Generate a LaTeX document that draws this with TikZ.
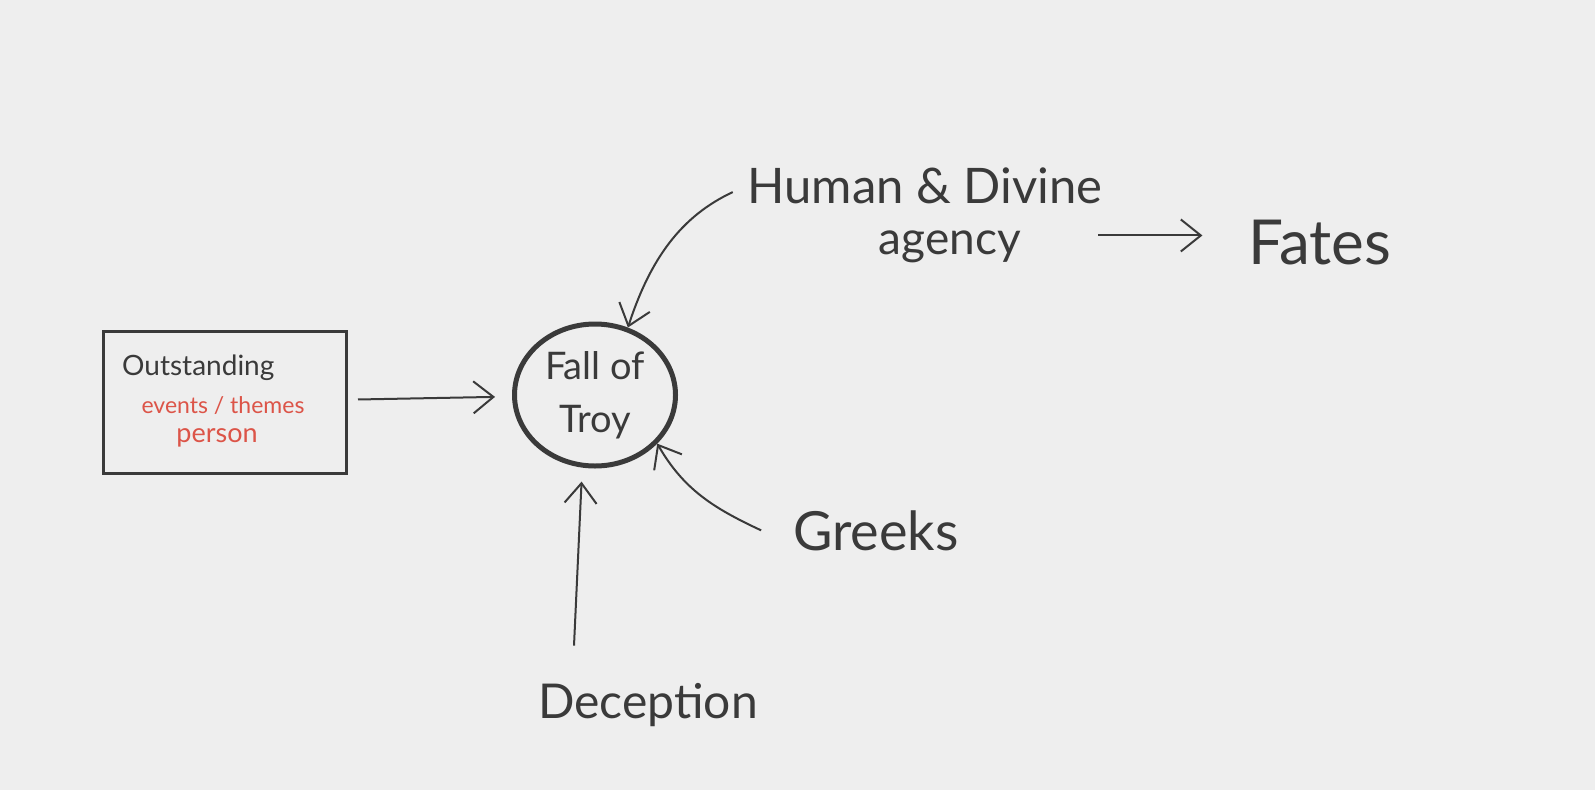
\documentclass[tikz,border=0pt]{standalone}
\usepackage{fontspec}
\setmainfont{Lato}
\usetikzlibrary{arrows.meta,shapes.geometric,positioning}
\definecolor{paper}{RGB}{238,238,238}
\definecolor{ink}{RGB}{58,58,58}
\definecolor{redink}{RGB}{220,84,72}

\begin{document}
\begin{tikzpicture}[x=1pt, y=-1pt,
  arr/.style={-{Straight Barb[length=20pt,width=32pt]}, line width=2pt, draw=ink},
  txt/.style={text=ink, inner sep=0pt, anchor=base}]
\def\fs#1{\fontsize{#1}{#1}\selectfont}

\fill[paper] (0,0) rectangle (1595,790);
\useasboundingbox (0,0) rectangle (1595,790);

% box on the left
\node[draw=ink, line width=3pt, minimum width=243pt, minimum height=142pt] (B) at (225,402) {};
\node[txt, anchor=base west, font=\fs{28}] (O) at (122,375) {Outstanding};
\node[txt, text=redink, font=\fs{23}] (E) at (223,413) {events / themes};
\node[txt, text=redink, font=\fs{27}] (P) at (217,442) {person};

% circle in the middle
\node[draw=ink, ellipse, line width=5pt, minimum width=161pt, minimum height=142pt, inner sep=0pt, align=center, text=ink, font=\fontsize{38}{53}\selectfont] (C) at (595,395) {Fall of\\Troy};

\node[txt, font=\fs{49}] (H) at (925,203) {Human \& Divine};
\node[txt, font=\fs{46}] (A) at (950,254) {agency};
\node[txt, font=\fs{62}] (F) at (1320,264) {Fates};
\node[txt, font=\fs{54}] (G) at (876,550) {Greeks};
\node[txt, font=\fs{48}] (D) at (648,718) {Deception};

\draw[arr, shorten <=10pt, shorten >=17pt] (B) -- (C);
\draw[arr, shorten <=16pt] (H.west) to[out=205, in=72] (C.64);
\draw[arr] ([xshift=-32pt]G.west) to[out=155, in=-60] (C.-38);
\draw[arr, shorten >=14pt] ([xshift=-74pt, yshift=37pt]D.north) -- (C.-100);
\draw[arr, shorten <=77pt, shorten >=46pt] ([yshift=16pt]A.mid east) -- ([yshift=16pt]A.mid east -| F.west);
\end{tikzpicture}
\end{document}
